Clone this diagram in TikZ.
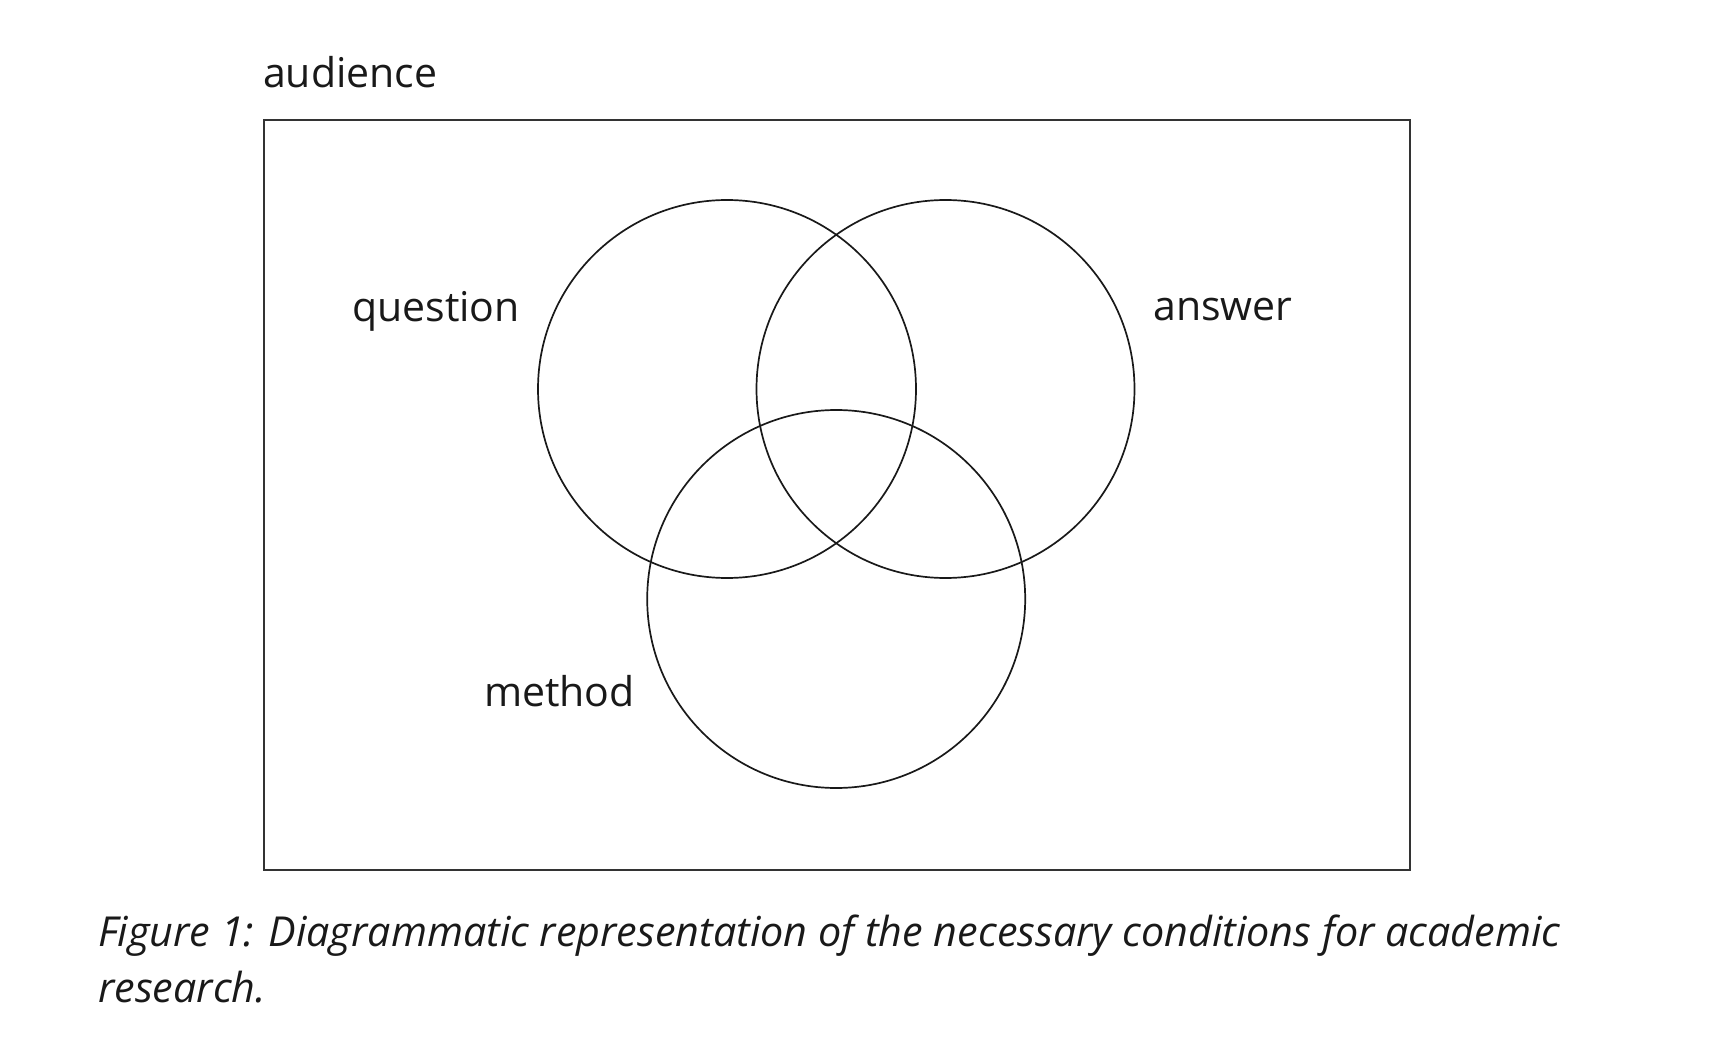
\documentclass[tikz,border=0pt]{standalone}
\usepackage{fontspec}
\setmainfont{Open Sans}
\begin{document}
\begin{tikzpicture}[x=1pt,y=-1pt,
  ring/.style={draw=black!90,line width=1.7pt},
  lbl/.style={font=\fontsize{41}{49}\selectfont,inner sep=0pt,anchor=base west,text=black!90},
  captext/.style={font=\fontsize{41.3}{49}\selectfont\itshape,inner sep=0pt,anchor=base west,text=black!90}]
\useasboundingbox (0,0) rectangle (1714,1064);
\node[draw=black!80,line width=2pt,minimum width=1145.6pt,minimum height=750pt,inner sep=0pt,anchor=north west] (aud) at (263.4,119.1) {};
\node[ring,circle,minimum size=378pt,inner sep=0pt] (q) at (727,389) {};
\node[ring,circle,minimum size=378pt,inner sep=0pt] (a) at (945.5,389) {};
\node[ring,circle,minimum size=378pt,inner sep=0pt] (m) at (836.2,599) {};
\node[lbl] (taud) at (263,88) {audience};
\node[lbl] (tq) at (352,322) {question};
\node[lbl] (ta) at (1153,321) {answer};
\node[lbl] (tm) at (484,706) {method};
\node[captext] (c1) at (98,946) {Figure 1: Diagrammatic representation of the necessary conditions for academic};
\node[captext] (c2) at (98,1002) {research.};
\end{tikzpicture}
\end{document}
